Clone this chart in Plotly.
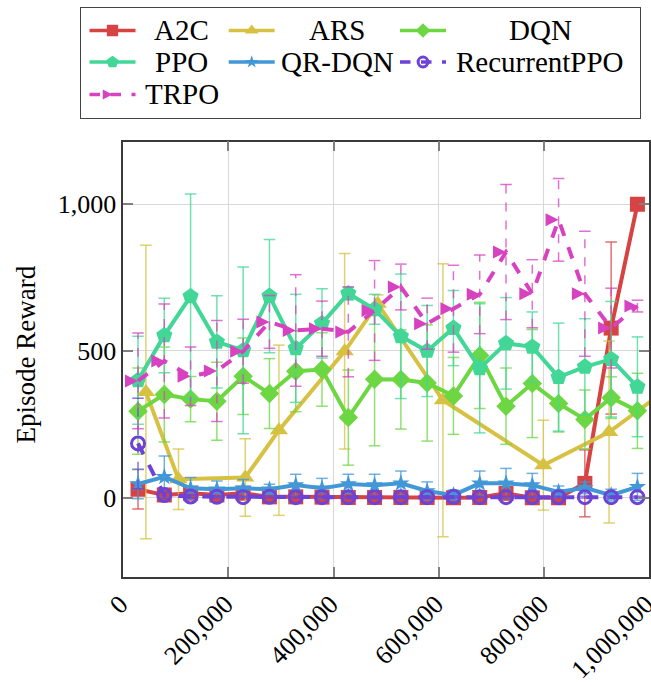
import plotly.graph_objects as go

# Evaluation timesteps shared by most agents
steps = [28000, 78000, 128000, 178000, 228000, 278000, 328000, 378000, 428000, 478000,
         528000, 578000, 628000, 678000, 728000, 778000, 828000, 878000, 928000, 978000]
# ARS evaluates at its own iteration boundaries
ars_steps = [43000, 105000, 232000, 296000, 421000, 484000, 608000, 799000, 924000, 1050000]

a2c = [29, 9, 15, 9, 15, 3, 3, 2, 1, 1, 1, 1, 0, 1, 15, 0, 0, 49, 578, 1000]
a2c_std = [67, 10, 8, 8, 8, 5, 5, 3, 3, 3, 3, 3, 2, 3, 10, 2, 2, 114, 293, 0]

ars = [360, 63, 69, 230, 499, 661, 332, 111, 224, 390]
ars_std = [500, 103, 132, 290, 333, 30, 465, 153, 310, 150]

dqn = [295, 352, 336, 329, 414, 355, 431, 437, 273, 404, 403, 391, 347, 485, 312, 389, 321, 267, 341, 296]
dqn_std = [147, 162, 77, 133, 130, 119, 138, 125, 162, 227, 169, 198, 131, 181, 130, 184, 97, 100, 71, 128]

ppo = [400, 553, 686, 531, 502, 687, 509, 594, 696, 642, 550, 500, 578, 441, 526, 514, 411, 446, 472, 378]
ppo_std = [150, 127, 349, 157, 284, 193, 184, 118, 22, 51, 212, 155, 128, 220, 156, 119, 184, 164, 197, 170]

qrdqn = [47, 71, 32, 29, 32, 29, 43, 32, 47, 43, 49, 23, 9, 49, 49, 43, 20, 34, 9, 37]
qrdqn_std = [50, 71, 37, 28, 30, 17, 37, 34, 33, 37, 42, 31, 17, 42, 51, 40, 20, 20, 20, 46]

rppo = [185, 9, 4, 3, 2, 3, 2, 2, 2, 2, 2, 2, 3, 2, 2, 2, 2, 2, 2, 2]
rppo_std = [154, 10, 5, 3, 3, 3, 3, 3, 3, 3, 3, 3, 3, 3, 3, 3, 3, 3, 3, 3]

trpo = [398, 466, 414, 432, 499, 599, 570, 576, 565, 638, 718, 593, 644, 693, 837, 695, 947, 695, 578, 653]
trpo_std = [163, 194, 100, 172, 109, 90, 190, 94, 153, 170, 78, 87, 148, 134, 230, 116, 141, 213, 136, 20]

x_ticks = [0, 200000, 400000, 600000, 800000, 1000000]
y_ticks = [0, 500, 1000]

FONT = "Liberation Serif"
CAP = 11000  # half-width of error-bar caps, in timesteps

# name, x, mean, std, colour, marker, marker size, dash
series = [
    ("A2C", steps, a2c, a2c_std, "rgb(215,66,66)", "square", 15, "solid"),
    ("ARS", ars_steps, ars, ars_std, "rgb(215,193,66)", "triangle-up", 16, "solid"),
    ("DQN", steps, dqn, dqn_std, "rgb(108,215,66)", "diamond", 15, "solid"),
    ("PPO", steps, ppo, ppo_std, "rgb(66,215,151)", "pentagon", 17, "solid"),
    ("QR-DQN", steps, qrdqn, qrdqn_std, "rgb(66,151,215)", "star", 13, "solid"),
    ("RecurrentPPO", steps, rppo, rppo_std, "rgb(108,66,215)", "circle-open", 13, "dash"),
    ("TRPO", steps, trpo, trpo_std, "rgb(215,66,193)", "arrow-right", 13, "dash"),
]

# Page geometry (pixels)
W, H = 651, 686
M_L, M_R, M_T, M_B = 0, 2, 0, 109
PW, PH = W - M_L - M_R, H - M_T - M_B          # paper size
PLOT_L, PLOT_T = 123.3, 141.7                   # inner plot box, left/top in px
LEG_BOX = (80.7, 640.0, 8.3, 118.3)             # legend frame: left, right, top, bottom


def rgba(c, a):
    return c.replace("rgb(", "rgba(").replace(")", f",{a})")


def marker_style(sym, size, color):
    m = dict(symbol=sym, size=size, color=color)
    m["line"] = dict(color=color, width=3) if sym.endswith("-open") else dict(width=0)
    return m


fig = go.Figure()
for name, xs, ys, es, color, sym, size, dash in series:
    sx, sy, cx, cy = [], [], [], []
    for x, y, e in zip(xs, ys, es):
        sx += [x, x, None]
        sy += [y - e, y + e, None]
        cx += [x - CAP, x + CAP, None, x - CAP, x + CAP, None]
        cy += [y - e, y - e, None, y + e, y + e, None]
    fig.add_trace(go.Scatter(x=sx, y=sy, mode="lines", showlegend=False, hoverinfo="skip",
                             line=dict(color=rgba(color, 0.75), width=1.5, dash=dash)))
    fig.add_trace(go.Scatter(x=cx, y=cy, mode="lines", showlegend=False, hoverinfo="skip",
                             line=dict(color=rgba(color, 0.75), width=1.5)))
    fig.add_trace(go.Scatter(x=xs, y=ys, name=name, mode="lines+markers", showlegend=False,
                             line=dict(color=color, width=4, dash=dash),
                             marker=marker_style(sym, size, color)))

# Legend drawn on its own small subplot whose axes are in pixel units
leg_cols_sample = [112.5, 251.7, 423.0]
leg_cols_text = [181.5, 337.0, 540.0]
leg_rows = [30.5, 62.0, 94.5]
half = 23
for k, (name, xs, ys, es, color, sym, size, dash) in enumerate(series):
    r, c = divmod(k, 3)
    sxc, ry = leg_cols_sample[c], leg_rows[r]
    fig.add_trace(go.Scatter(x=[sxc - half, sxc + half], y=[ry, ry], mode="lines",
                             xaxis="x2", yaxis="y2", showlegend=False, hoverinfo="skip",
                             line=dict(color=color, width=3.5, dash=dash)))
    fig.add_trace(go.Scatter(x=[sxc], y=[ry], mode="markers", xaxis="x2", yaxis="y2",
                             showlegend=False, hoverinfo="skip",
                             marker=marker_style(sym, size * 0.75, color)))
    fig.add_annotation(x=leg_cols_text[c], y=ry, xref="x2", yref="y2", text=name,
                       showarrow=False, xanchor="center", yanchor="middle",
                       font=dict(family=FONT, size=29, color="black"))

# Y-axis title
fig.add_annotation(x=25.5 / PW, y=(H - M_B - 355) / PH, xref="paper", yref="paper",
                   text="Episode Reward", textangle=-90, showarrow=False,
                   xanchor="center", yanchor="middle",
                   font=dict(family=FONT, size=27, color="black"))

axis_common = dict(
    showline=True, linecolor="#3a3a3a", linewidth=1.5, mirror="ticks",
    ticks="inside", ticklen=10, tickwidth=1.5, tickcolor="#808080",
    showgrid=True, gridcolor="#d8d8d8", gridwidth=1.3, zeroline=False,
    tickfont=dict(family=FONT, size=26, color="black"), automargin=False,
)

bottom_px = H - M_B
fig.update_layout(
    width=W, height=H,
    margin=dict(l=M_L, r=M_R, t=M_T, b=M_B),
    plot_bgcolor="white", paper_bgcolor="white",
    font=dict(family=FONT, size=26, color="black"),
    showlegend=False,
    xaxis=dict(domain=[PLOT_L / PW, 1], range=[0, 1000000], tickvals=x_ticks,
               tickformat=",d", tickangle=-45, ticklabeloverflow="allow",
               ticklabelshift=-3, **axis_common),
    yaxis=dict(domain=[0, (bottom_px - PLOT_T) / PH], range=[-270, 1213],
               tickvals=y_ticks, tickformat=",d", **axis_common),
    xaxis2=dict(domain=[LEG_BOX[0] / PW, LEG_BOX[1] / PW], range=[LEG_BOX[0], LEG_BOX[1]],
                anchor="y2", showline=True, mirror=True, linecolor="#444", linewidth=1.4,
                showgrid=False, zeroline=False, showticklabels=False, ticks=""),
    yaxis2=dict(domain=[(bottom_px - LEG_BOX[3]) / PH, (bottom_px - LEG_BOX[2]) / PH],
                range=[LEG_BOX[3], LEG_BOX[2]], anchor="x2", showline=True, mirror=True,
                linecolor="#444", linewidth=1.4, showgrid=False, zeroline=False,
                showticklabels=False, ticks=""),
)

fig.write_html("out.html")
